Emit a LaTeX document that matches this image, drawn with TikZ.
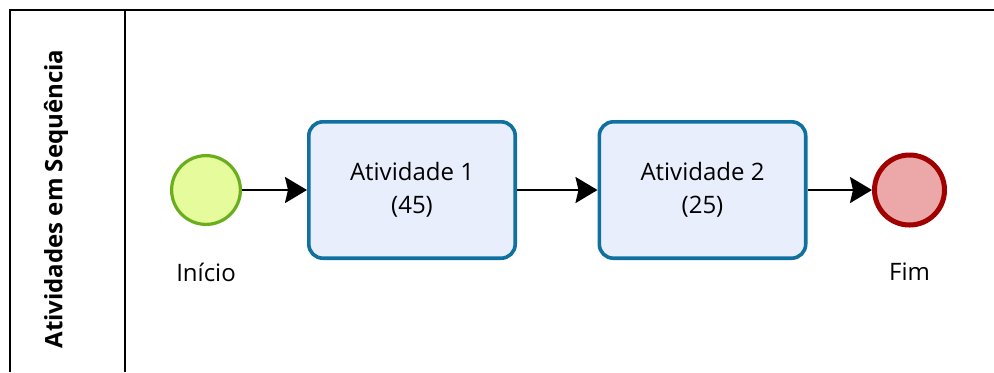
\documentclass[tikz,border=0pt]{standalone}
\usepackage{fontspec}
\setmainfont{Open Sans}
\usetikzlibrary{arrows.meta, positioning}
\definecolor{inicioverde}{HTML}{6AAE1E}
\definecolor{iniciofundo}{HTML}{E6FC9C}
\definecolor{tarefaazul}{HTML}{10709E}
\definecolor{tarefafundo}{HTML}{E9EEFC}
\definecolor{fimvermelho}{HTML}{A00000}
\definecolor{fimfundo}{HTML}{ECA8A8}

\begin{document}
\begin{tikzpicture}[x=0.5pt,y=-0.5pt,font=\fontsize{12}{16.5}\selectfont,
    tarefa/.style={draw=tarefaazul,fill=tarefafundo,line width=1.8pt,rounded corners=7pt,
      minimum width=103.2pt,minimum height=68.2pt,align=center},
    fluxo/.style={-{Stealth[length=11pt,width=13pt,inset=1.5pt]},line width=1.2pt}]
    \useasboundingbox (0,0) rectangle (994,372);
    % raia
    \draw[line width=1pt] (10,372) -- (10,10) -- (994,10);
    \draw[line width=0.8pt] (125,10) -- (125,372);
    \node[rotate=90,font=\fontsize{12}{14}\selectfont\bfseries] (raia) at (56,199) {Atividades em Sequência};
    % eventos e atividades
    \node[circle,draw=inicioverde,fill=iniciofundo,line width=1.6pt,minimum size=34.4pt,inner sep=0pt] (inicio) at (206,190) {};
    \node[tarefa] (ativ1) at (412,190) {Atividade 1\\(45)};
    \node[tarefa] (ativ2) at (702.5,190) {Atividade 2\\(25)};
    \node[circle,draw=fimvermelho,fill=fimfundo,line width=2.5pt,minimum size=35pt,inner sep=0pt] (fim) at (909.5,190) {};
    \node (inicioLabel) at (206,272) {Início};
    \node (fimLabel) at (909.5,272) {Fim};
    % fluxos
    \draw[fluxo] (inicio) -- (ativ1);
    \draw[fluxo] (ativ1) -- (ativ2);
    \draw[fluxo] (ativ2) -- (fim);
  \end{tikzpicture}
\end{document}
